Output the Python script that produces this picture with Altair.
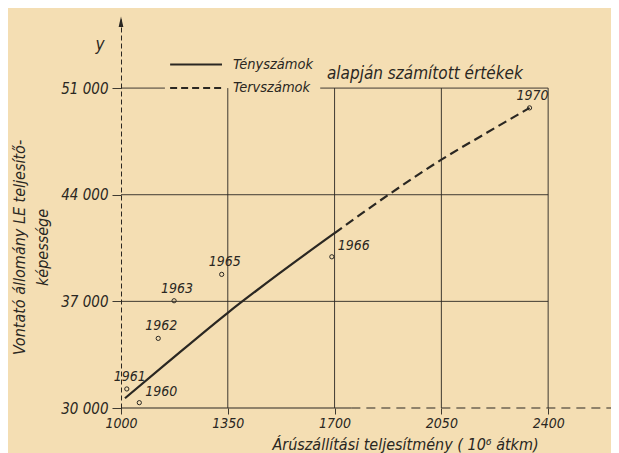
import altair as alt
import pandas as pd

# ---- data ----
years = [1960, 1961, 1962, 1963, 1965, 1966, 1970]
perf = [1060, 1019, 1122, 1174, 1330, 1691, 2339]
capacity = [30350, 31250, 34570, 37040, 38770, 39925, 49700]

fact_x = [1013, 1150, 1350, 1520, 1700]
fact_y = [30640, 32940, 36250, 38850, 41480]
plan_x = [1700, 1877, 2050, 2200, 2339]
plan_y = [41480, 44000, 46300, 48080, 49700]

x_ticks = [1000, 1350, 1700, 2050, 2400]
y_ticks = [30000, 37000, 44000, 51000]

legend_labels = ["Tényszámok", "Tervszámok"]
legend_note = "alapján számított értékek"
x_title = "Árúszállítási teljesítmény ( 10⁶ átkm)"
y_title = ["Vontató állomány LE teljesítő-", "képessége"]
y_symbol = "y"

# ---- style ----
INK = "#2a2722"
BG = "#f4deb3"
FONT = "DejaVu Sans Condensed, Liberation Sans Narrow, DejaVu Sans"

X_MIN, X_MAX = 1000, 2606
Y_MIN, Y_MAX = 30000, 55600
XS = alt.Scale(domain=[X_MIN, X_MAX], nice=False, zero=False)
YS = alt.Scale(domain=[Y_MIN, Y_MAX], nice=False, zero=False)

pts = pd.DataFrame({"year": years, "x": perf, "y": capacity})
fact = pd.DataFrame({"x": fact_x, "y": fact_y})
plan = pd.DataFrame({"x": plan_x, "y": plan_y})

# grid
vgrid = pd.DataFrame({"x": x_ticks[1:], "y": y_ticks[0], "y2": y_ticks[-1]})
hgrid = pd.DataFrame({"y": y_ticks[1:-1], "x": x_ticks[0], "x2": x_ticks[-1]})
topline = pd.DataFrame({"x": [x_ticks[0], 1653], "x2": [1144, x_ticks[-1]], "y": y_ticks[-1]})
bottom_solid = pd.DataFrame({"x": [x_ticks[0]], "x2": [1755], "y": [y_ticks[0]]})
bottom_dash = pd.DataFrame({"x": [1755], "x2": [X_MAX], "y": [y_ticks[0]]})

XN = alt.X("x:Q", scale=XS)
YN = alt.Y("y:Q", scale=YS)


def rule_h(df, dash=None, width=0.9):
    kw = dict(color=INK, strokeWidth=width, clip=False)
    if dash:
        kw["strokeDash"] = dash
    return alt.Chart(df).mark_rule(**kw).encode(x=XN, x2="x2:Q", y=YN)


# axes carrier
axes = alt.Chart(pts).mark_point(opacity=0).encode(
    x=alt.X(
        "x:Q", scale=XS,
        axis=alt.Axis(
            values=x_ticks, format="d", domain=False, grid=False, tickSize=6,
            tickColor=INK, tickWidth=0.9, labelPadding=2, labelFontSize=14,
            title=x_title, titleX=284, titleY=41, titleBaseline="alphabetic",
            titleAlign="center", titleFontSize=16, labelFlush=False,
        ),
    ),
    y=alt.Y(
        "y:Q", scale=YS,
        axis=alt.Axis(
            values=y_ticks, grid=False, domainDash=[5, 3], domainColor=INK,
            domainWidth=1, tickSize=9, tickColor=INK, tickWidth=0.9,
            labelPadding=4, labelFontSize=15,
            labelExpr="replace(format(datum.value, ','), ',', ' ')",
            title=y_title, titleAngle=270, titleX=-110, titleY=229,
            titleBaseline="top", titleAlign="center", titleFontSize=16,
            titleLineHeight=23,
        ),
    ),
)

vg = alt.Chart(vgrid).mark_rule(color=INK, strokeWidth=0.9).encode(x=XN, y=YN, y2="y2:Q")
hg = rule_h(hgrid)
tl = rule_h(topline)
bs = rule_h(bottom_solid, width=1.1)
bd = rule_h(bottom_dash, dash=[9, 6], width=1.1)

points = alt.Chart(pts).mark_point(
    shape="circle", size=18, filled=False, color=INK, strokeWidth=1, opacity=1
).encode(x=XN, y=YN)

fact_line = alt.Chart(fact).mark_line(
    color=INK, strokeWidth=2.2, interpolate="monotone"
).encode(x=XN, y=YN)
plan_line = alt.Chart(plan).mark_line(
    color=INK, strokeWidth=2.2, interpolate="monotone", strokeDash=[9, 5]
).encode(x=XN, y=YN)

lab_top = alt.Chart(pts).transform_filter(
    alt.FieldOneOfPredicate(field="year", oneOf=[1961, 1962, 1963, 1965, 1970])
).mark_text(
    font=FONT, fontStyle="italic", fontSize=14, color=INK, dy=-12, dx=3, baseline="middle"
).encode(x=XN, y=YN, text="year:N")
lab_right = alt.Chart(pts).transform_filter(
    alt.FieldOneOfPredicate(field="year", oneOf=[1960, 1966])
).mark_text(
    font=FONT, fontStyle="italic", fontSize=14, color=INK, dy=-11, dx=6,
    align="left", baseline="middle"
).encode(x=XN, y=YN, text="year:N")

# legend drawn in the plot
leg_lines = pd.DataFrame({"x": [1161], "x2": [1331], "y": [52540]})
leg_dash = pd.DataFrame({"x": [1161], "x2": [1331], "y": [51000]})
ls = rule_h(leg_lines, width=2)
ld = rule_h(leg_dash, dash=[7, 4], width=2)
leg_txt = pd.DataFrame({"x": [1367, 1367], "y": [52540, 51000], "t": legend_labels})
lt = alt.Chart(leg_txt).mark_text(
    font=FONT, fontStyle="italic", fontSize=14.5, color=INK, align="left", baseline="middle"
).encode(x=XN, y=YN, text="t:N")
note = pd.DataFrame({"x": [1675], "y": [51900], "t": [legend_note]})
nt = alt.Chart(note).mark_text(
    font=FONT, fontStyle="italic", fontSize=17, color=INK, align="left", baseline="middle"
).encode(x=XN, y=YN, text="t:N")

# y arrow and 'y' symbol
arrow = pd.DataFrame({"x": [X_MIN], "y": [55350]})
ar = alt.Chart(arrow).mark_point(
    shape="M0,-1L0.45,1L-0.45,1Z", filled=True, size=110, color=INK, opacity=1
).encode(x=XN, y=YN)
ysym = pd.DataFrame({"x": [931], "y": [53800], "t": [y_symbol]})
ys = alt.Chart(ysym).mark_text(
    font=FONT, fontStyle="italic", fontSize=17, color=INK, baseline="middle", clip=False
).encode(x=XN, y=YN, text="t:N")

chart = alt.layer(
    axes, vg, hg, tl, bs, bd, points, fact_line, plan_line, lab_top, lab_right,
    ls, ld, lt, nt, ar, ys,
).properties(
    width=490, height=390,
    autosize=alt.AutoSizeParams(type="none"),
    padding={"left": 113, "top": 10, "right": 0, "bottom": 45},
    background=BG,
).configure_view(stroke=None).configure_axis(
    labelFont=FONT, labelFontStyle="italic", labelColor=INK,
    titleFont=FONT, titleFontStyle="italic", titleColor=INK, titleFontWeight="normal",
)

chart.save("out.html", embed_options={"renderer": "svg", "actions": False})
